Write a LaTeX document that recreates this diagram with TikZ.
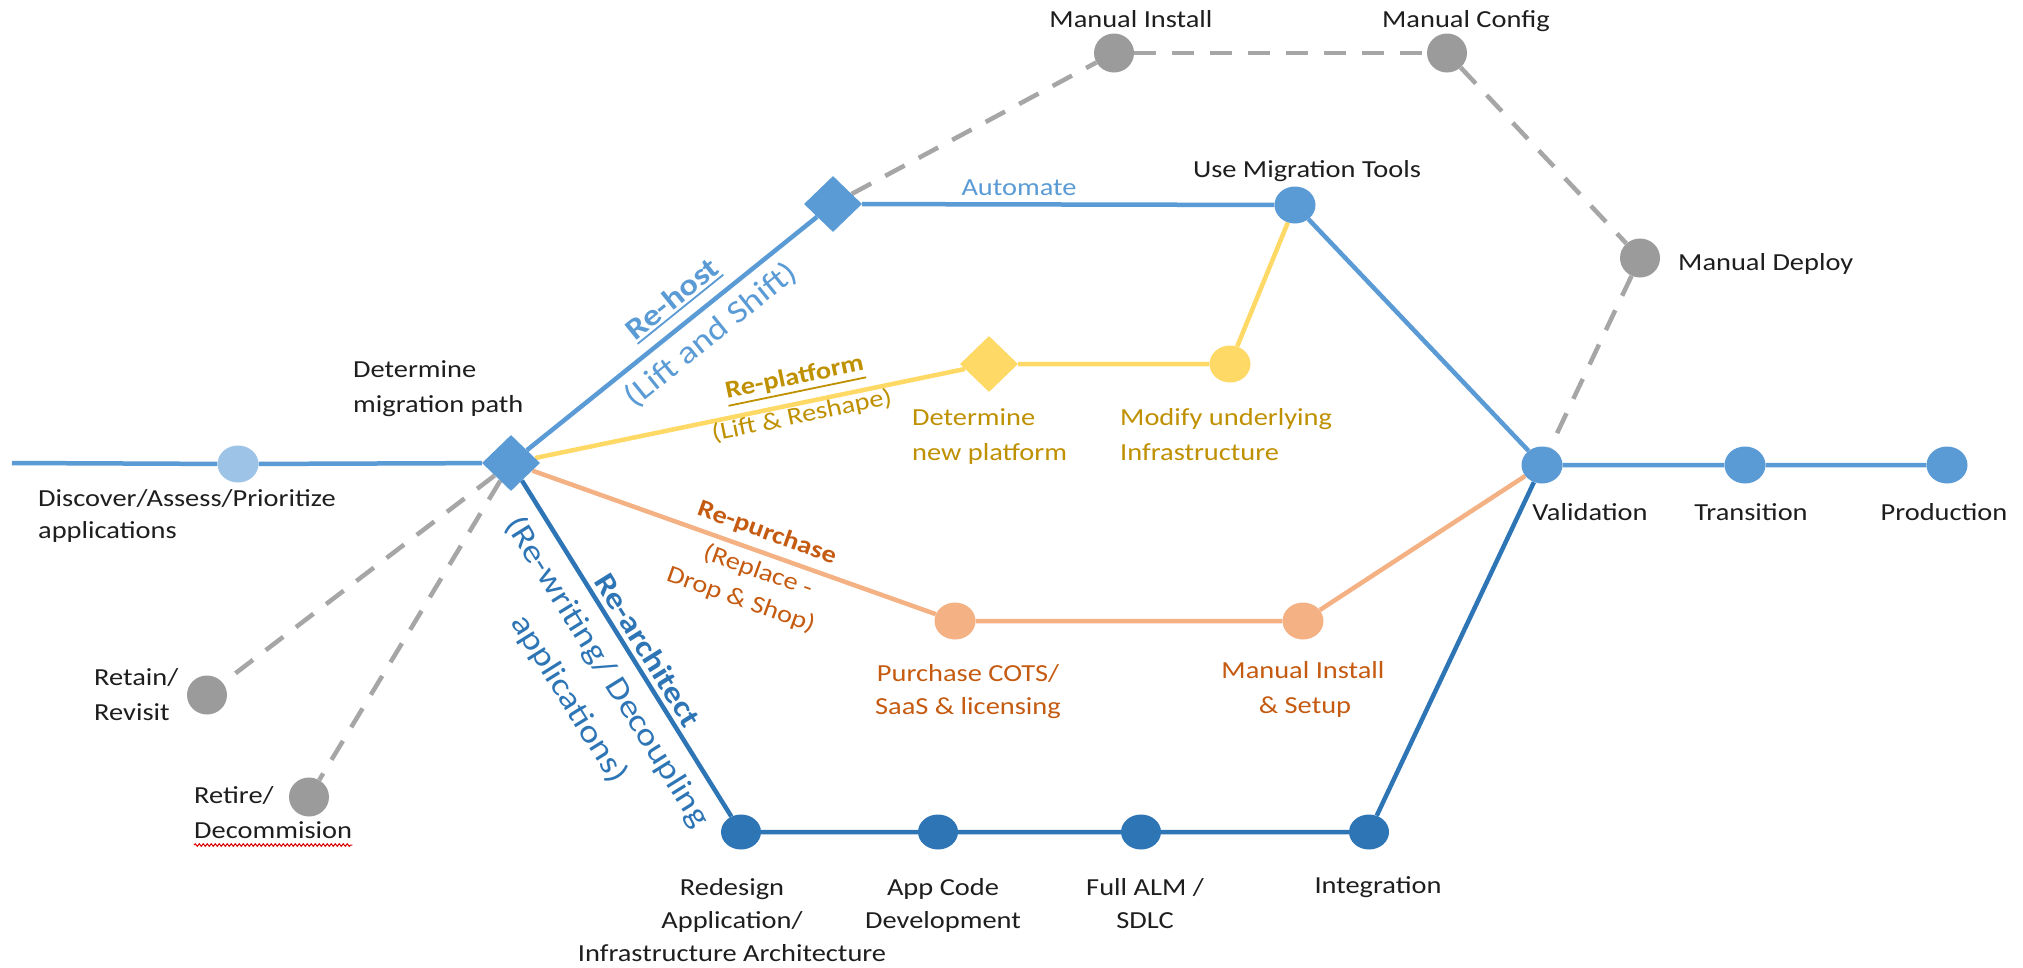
\documentclass[tikz,border=0pt]{standalone}
\usepackage{fontspec}
\setmainfont{Carlito}[FakeStretch=1.16]
\usetikzlibrary{shapes.geometric,decorations.pathmorphing}
\definecolor{lb}{HTML}{5B9BD5}
\definecolor{llb}{HTML}{9DC3E6}
\definecolor{db}{HTML}{2E75B6}
\definecolor{yl}{HTML}{FFD966}
\definecolor{ylt}{HTML}{BF9000}
\definecolor{orl}{HTML}{F4B183}
\definecolor{ort}{HTML}{C55A11}
\definecolor{gr}{HTML}{9B9B9B}
\definecolor{grl}{HTML}{A6A6A6}
\definecolor{txt}{HTML}{1E1E1E}
\newcommand\myul[1]{\leavevmode\vtop{\hbox{#1}\kern2.5pt\hrule height 1.8pt}}
\pgfdeclarelayer{bg}
\pgfdeclarelayer{paper}
\pgfsetlayers{paper,bg,main}
\begin{document}
\begin{tikzpicture}[x=1pt,y=-1pt,
  t/.style={inner sep=0pt, font=\fontsize{24.5}{30}\selectfont, text=txt},
  tbold/.style={inner sep=0pt, font=\fontsize{24.5}{30}\selectfont\bfseries},
  big/.style={inner sep=0pt, font=\fontsize{32}{38}\selectfont},
  bigbold/.style={inner sep=0pt, font=\fontsize{30}{36}\selectfont\bfseries},
  stopnode/.style={ellipse, minimum width=41pt, minimum height=37pt, inner sep=0pt},
  gstop/.style={ellipse, minimum width=40pt, minimum height=39pt, inner sep=0pt, fill=gr},
  dstop/.style={ellipse, minimum width=40pt, minimum height=35pt, inner sep=0pt, fill=db},
  dia/.style={diamond, minimum width=58pt, minimum height=56pt, inner sep=0pt},
  lineA/.style={line width=4.5pt, draw=lb},
  lineY/.style={line width=4.5pt, draw=yl},
  lineO/.style={line width=4.5pt, draw=orl},
  lineD/.style={line width=4.5pt, draw=db},
  gdash/.style={line width=4.5pt, draw=grl, dash pattern=on 22pt off 16pt}
]
\begin{pgfonlayer}{paper}
\useasboundingbox[fill=white] (0,0) rectangle (2023,967);
\end{pgfonlayer}

% stops
\coordinate (start) at (12,463);
\node[stopnode, fill=llb] (disc) at (238,464) {};
\node[dia, fill=lb] (d1) at (511,463) {};
\node[dia, fill=lb] (d2) at (833,204) {};
\node[gstop] (mi) at (1114,53) {};
\node[gstop] (mc) at (1447,53) {};
\node[gstop] (md) at (1640,258) {};
\node[stopnode, fill=lb] (umt) at (1295,205) {};
\node[dia, fill=yl] (d3) at (989,364) {};
\node[stopnode, fill=yl] (mod) at (1230,364) {};
\node[stopnode, fill=orl] (pur) at (955,621) {};
\node[stopnode, fill=orl] (mis) at (1303,621) {};
\node[dstop] (red) at (741,832) {};
\node[dstop] (app) at (938,832) {};
\node[dstop] (alm) at (1141,832) {};
\node[dstop] (int) at (1369,832) {};
\node[stopnode, fill=lb] (val) at (1542,465) {};
\node[stopnode, fill=lb] (tra) at (1745,465) {};
\node[stopnode, fill=lb] (pro) at (1947,465) {};
\node[gstop] (ret) at (207,695) {};
\node[gstop] (rtr) at (309,797) {};

% connectors
\begin{pgfonlayer}{bg}
\draw[lineA] (start) -- (disc) -- (d1);
\draw[lineA] (d1) -- (d2) -- (umt) -- (val) -- (tra) -- (pro);
\draw[lineY] (d1) -- (d3) -- (mod) -- (umt);
\draw[lineO] (d1) -- (pur) -- (mis) -- (val);
\draw[lineD] (d1) -- (red) -- (app) -- (alm) -- (int) -- (val);
\draw[gdash] (d2) -- (mi);
\draw[gdash] (mi) -- (mc);
\draw[gdash] (mc) -- (md);
\draw[gdash] (md) -- (val);
\draw[gdash] (d1) -- (ret);
\draw[gdash] (d1) -- (rtr);
\end{pgfonlayer}

% labels
\node[t, anchor=base west] (discA) at (38,506) {Discover/Assess/Prioritize};
\node[t, anchor=base west] (discB) at (38,538) {applications};
\node[t, anchor=base west] (detA) at (353,377) {Determine};
\node[t, anchor=base west] (detB) at (353,412) {migration path};
\node[t, anchor=base] (miL) at (1131,27) {Manual Install};
\node[t, anchor=base] (mcL) at (1466,27) {Manual Config};
\node[t, anchor=base west] (mdL) at (1678,270) {Manual Deploy};
\node[t, anchor=base] (umtL) at (1307,177) {Use Migration Tools};
\node[t, anchor=base, text=lb] (auto) at (1019,195) {Automate};
\node[t, anchor=base west, text=ylt] (dnpA) at (912,425) {Determine};
\node[t, anchor=base west, text=ylt] (dnpB) at (912,460) {new platform};
\node[t, anchor=base west, text=ylt] (muiA) at (1120,425) {Modify underlying};
\node[t, anchor=base west, text=ylt] (muiB) at (1120,460) {Infrastructure};
\node[t, anchor=base, text=ort] (pcA) at (968,681) {Purchase COTS/};
\node[t, anchor=base, text=ort] (pcB) at (968,714) {SaaS \& licensing};
\node[t, anchor=base, text=ort] (misA) at (1303,678) {Manual Install};
\node[t, anchor=base, text=ort] (misB) at (1305,713) {\& Setup};
\node[t, anchor=base] (redA) at (732,895) {Redesign};
\node[t, anchor=base] (redB) at (732,928) {Application/};
\node[t, anchor=base] (redC) at (732,961) {Infrastructure Architecture};
\node[t, anchor=base] (appA) at (943,895) {App Code};
\node[t, anchor=base] (appB) at (943,928) {Development};
\node[t, anchor=base] (almA) at (1145,895) {Full ALM /};
\node[t, anchor=base] (almB) at (1145,928) {SDLC};
\node[t, anchor=base] (intL) at (1378,893) {Integration};
\node[t, anchor=base] (valL) at (1590,520) {Validation};
\node[t, anchor=base] (traL) at (1751,520) {Transition};
\node[t, anchor=base] (proL) at (1944,520) {Production};
\node[t, anchor=base west] (retA) at (94,685) {Retain/};
\node[t, anchor=base west] (retB) at (94,720) {Revisit};
\node[t, anchor=base west] (rtrA) at (194,803) {Retire/};
\node[t, anchor=base west] (rtrB) at (194,838) {Decommision};
\draw[red!85!black, line width=1pt, decorate, decoration={snake, amplitude=1.3pt, segment length=4pt}]
  ([yshift=-7pt]rtrB.base west) -- ([yshift=-7pt]rtrB.base east);

% path labels
\node[bigbold, text=lb, rotate=38.9] (rh) at (673,300) {\myul{Re-host}};
\node[big, text=lb, rotate=38.9] (lis) at (711,335) {(Lift and Shift)};
\node[tbold, text=ylt, rotate=11.7] (rp) at (795,380) {\myul{Re-platform}};
\node[t, text=ylt, rotate=11.7] (lr) at (802,416) {(Lift \& Reshape)};
\node[tbold, text=ort, rotate=-19.7] (rpu) at (767,533) {Re-purchase};
\node[t, text=ort, rotate=-19.7] (rpl) at (758,571) {(Replace -};
\node[t, text=ort, rotate=-19.7] (dsh) at (741,600) {Drop \& Shop)};
\node[bigbold, text=db, rotate=-58.1] (ra) at (648,650) {Re-architect};
\node[big, text=db, rotate=-58.1] (rw) at (607,672) {(Re-writing/ Decoupling};
\node[big, text=db, rotate=-58.1] (apl) at (569,699) {applications)};
\end{tikzpicture}
\end{document}
